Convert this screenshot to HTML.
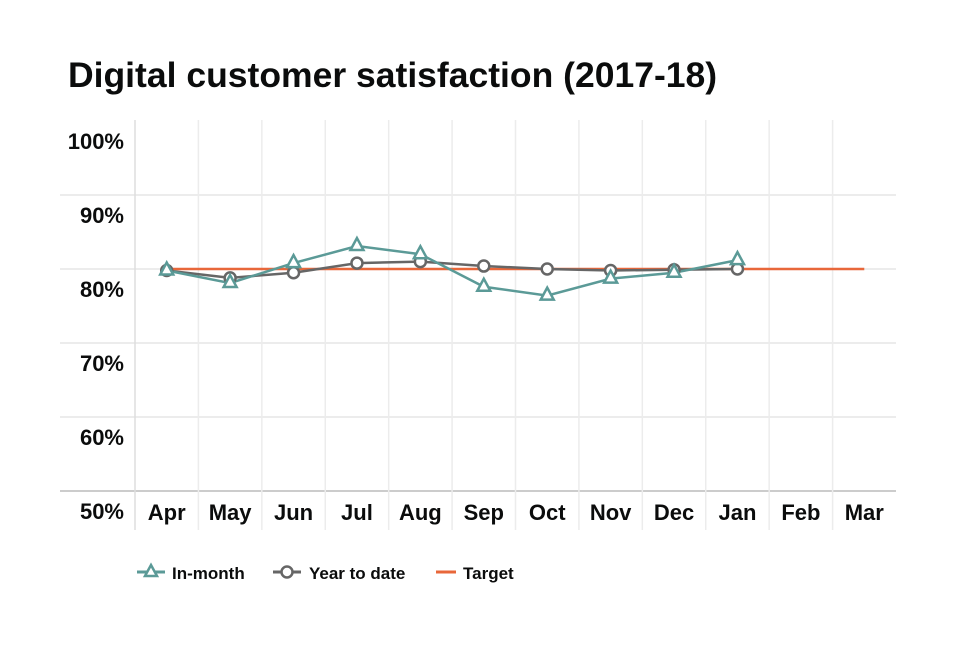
<!DOCTYPE html>
<html><head><meta charset="utf-8"><style>
body{margin:0;background:#fff;}
svg text{font-family:"Liberation Sans",sans-serif;font-weight:bold;fill:#0b0c0c;}
</style></head><body>
<svg width="960" height="640" id="chart">
<text x="68" y="87" font-size="35.5">Digital customer satisfaction (2017-18)</text>
<g id="grid"></g><g id="series"></g>
<g font-size="17">
<g><line x1="137" y1="572" x2="165" y2="572" stroke="#5b9a97" stroke-width="3"/><path d="M151 565 L157 576 L145 576 Z" fill="#fff" stroke="#5b9a97" stroke-width="2.5"/><text x="172" y="579">In-month</text></g>
<g><line x1="273" y1="572" x2="301" y2="572" stroke="#666" stroke-width="3"/><circle cx="287" cy="572" r="5.5" fill="#fff" stroke="#666" stroke-width="2.5"/><text x="309" y="579">Year to date</text></g>
<g><line x1="436" y1="572" x2="456" y2="572" stroke="#e8673a" stroke-width="3"/><text x="463" y="579">Target</text></g>
</g>
</svg>
<script>
const months=["Apr","May","Jun","Jul","Aug","Sep","Oct","Nov","Dec","Jan","Feb","Mar"];
const yTicks=[50,60,70,80,90,100];
const inMonth=[79.8,78.1,80.8,83.1,82.0,77.6,76.4,78.7,79.5,81.2];
const yearToDate=[79.8,78.8,79.5,80.8,81.0,80.4,80.0,79.8,79.9,80.0];
const target=[80,80,80,80,80,80,80,80,80,80,80,80];
const NS="http://www.w3.org/2000/svg";
const L=135,R=896,T=121,B=491,bw=(R-L)/months.length;
const x=i=>L+bw*(i+0.5), y=v=>B-(v-50)/50*(B-T);
function mk(tag,at,p){const e=document.createElementNS(NS,tag);for(const k in at)e.setAttribute(k,at[k]);p.appendChild(e);return e;}
const g=document.getElementById('grid'),s=document.getElementById('series');
yTicks.forEach(v=>{
 if(v<100){
 const ln=mk('line',{x1:60,x2:R,y1:y(v),y2:y(v),stroke:v===50?'#bbb':'#e6e6e6','stroke-width':1.5},g);
 
 
 }
 const t=mk('text',{x:124,y:y(v)+28,'text-anchor':'end','font-size':22},g);t.textContent=v+'%';
 
 
});
for(let i=0;i<months.length;i++){
 const ln=mk('line',{x1:L+bw*i,x2:L+bw*i,y1:120,y2:530,stroke:i===0?'#ddd':'#ececec','stroke-width':1.5},g);
 
 
}
months.forEach((m,i)=>{const t=mk('text',{x:x(i),y:520,'text-anchor':'middle','font-size':22},g);t.textContent=m;
 
 });
const tl=mk('polyline',{points:target.map((v,i)=>x(i)+','+y(v)).join(' '),fill:'none',stroke:'#e8673a','stroke-width':2.5},s);


const yl=mk('polyline',{points:yearToDate.map((v,i)=>x(i)+','+y(v)).join(' '),fill:'none',stroke:'#666','stroke-width':2.5},s);


const il=mk('polyline',{points:inMonth.map((v,i)=>x(i)+','+y(v)).join(' '),fill:'none',stroke:'#5b9a97','stroke-width':2.5},s);


yearToDate.forEach((v,i)=>{const c=mk('circle',{cx:x(i),cy:y(v),r:5.5,fill:'#fff',stroke:'#666','stroke-width':2.5},s);
 
 });
inMonth.forEach((v,i)=>{const X=x(i),Y=y(v);const p=mk('path',{d:`M${X} ${Y-8} L${X+6.5} ${Y+4} L${X-6.5} ${Y+4} Z`,fill:'#fff',stroke:'#5b9a97','stroke-width':2.5},s);
 
 });
</script>
</body></html>
